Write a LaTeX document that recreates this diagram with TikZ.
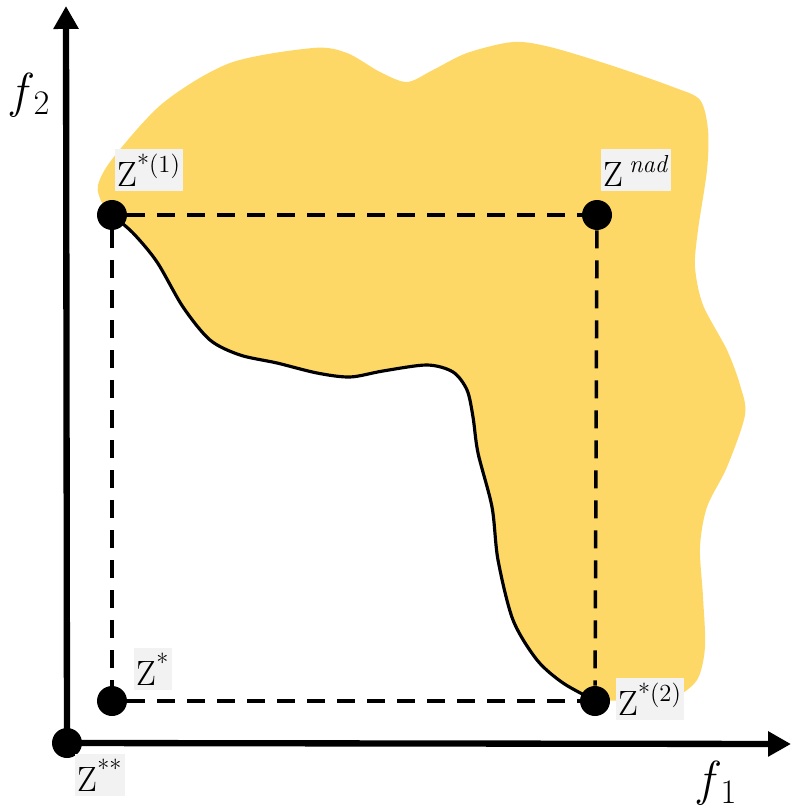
\documentclass[tikz,border=0pt]{standalone}
\usetikzlibrary{arrows.meta}
\definecolor{blobyellow}{RGB}{253,216,103}
\definecolor{labgray}{RGB}{242,242,242}

\begin{document}
\begin{tikzpicture}[x=0.02cm,y=-0.02cm,
  dot/.style={circle,fill=black,inner sep=0pt,minimum size=0.6cm},
  guide/.style={dashed,dash pattern=on 0.36cm off 0.24cm,line width=2pt},
  axis/.style={line width=3.6pt,-{Triangle[length=0.46cm,width=0.48cm]}},
  lab/.style={fill=labgray,inner xsep=1.5pt,inner ysep=2pt,text height=19.4pt,text depth=1pt,font=\fontsize{20}{24}\selectfont},
  axlab/.style={font=\fontsize{28}{32}\selectfont}]
  \useasboundingbox (0,0) rectangle (791,810);

  % feasible region and its front
  \fill[blobyellow] plot[smooth] coordinates {(112,215) (133,233) (157,262) (183,307) (210,340) (240,355) (277,363) (317,373) (350,377) (383,371) (427,365) (453,372) (467,390) (473,417) (478,453) (492,507) (498,560) (513,620) (537,660) (563,683) (594,700)}
    -- plot[smooth] coordinates {(594,700) (640,701) (673,698) (697,680) (705,647) (703,597) (700,547) (707,507) (727,467) (745,415) (740,385) (727,350) (703,305) (695,267) (698,230) (707,170) (708,130) (700,100) (673,87) (610,65) (550,47) (513,42) (467,53) (433,70) (407,82) (380,72) (347,53) (313,48) (230,63) (163,103) (113,158) (98,185) (102,203) (112,215)} -- cycle;
  \draw[line width=1.8pt] plot[smooth] coordinates {(112,215) (133,233) (157,262) (183,307) (210,340) (240,355) (277,363) (317,373) (350,377) (383,371) (427,365) (453,372) (467,390) (473,417) (478,453) (492,507) (498,560) (513,620) (537,660) (563,683) (594,700)};

  \node[dot] (o) at (67,743) {};
  \node[dot] (z1) at (112,215) {};
  \node[dot] (zn) at (597,215) {};
  \node[dot] (zs) at (112,701) {};
  \node[dot] (z2) at (595,701) {};

  \draw[guide] (z1) -- (zn);
  \draw[guide] (zn) -- (z2);
  \draw[guide] (zs) -- (z2);
  \draw[guide] (z1) -- (zs);

  \coordinate (ytip) at (66,6);
  \coordinate (xtip) at (791,744);
  \draw[axis] (o.center) -- (ytip);
  \draw[axis] (o.center) -- (xtip);

  \node[lab] (l1) at (149,170) {Z\textsuperscript{*(1)}};
  \node[lab] (ln) at (636,170) {Z\hspace{3pt}\textsuperscript{\itshape nad}};
  \node[lab] (ls) at (153,669) {Z\textsuperscript{*}};
  \node[lab] (l2) at (650,699) {Z\textsuperscript{*(2)}};
  \node[lab] (lo) at (100,775) {Z\textsuperscript{**}};
  \node[axlab] (f2) at (31,95) {\textit{f}\textsubscript{2}};
  \node[axlab] (f1) at (718,783) {\textit{f}\textsubscript{1}};
\end{tikzpicture}
\end{document}
